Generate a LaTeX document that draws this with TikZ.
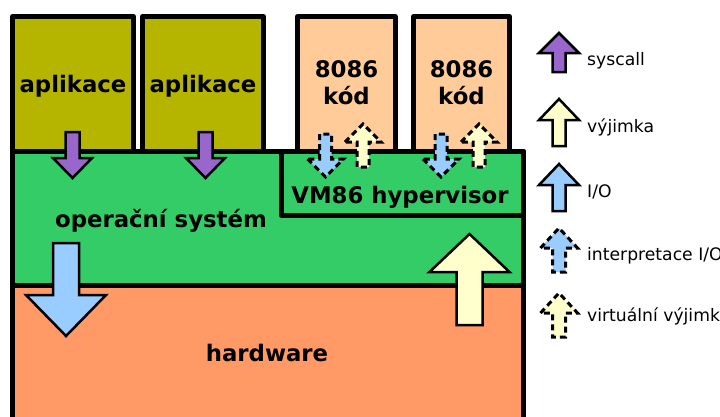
\documentclass[tikz,border=0pt]{standalone}
\usepackage{fontspec}
\setmainfont{DejaVu Sans}
\definecolor{appcol}{RGB}{181,181,0}
\definecolor{codecol}{RGB}{255,204,153}
\definecolor{oscol}{RGB}{51,204,102}
\definecolor{hwcol}{RGB}{255,153,102}
\definecolor{purplecol}{RGB}{153,102,204}
\definecolor{yellowcol}{RGB}{255,255,204}
\definecolor{bluecol}{RGB}{153,204,255}
\newcommand{\blockarr}[7]{\draw[#1] (#2-#7,#4) -- (#2,#3) -- (#2+#7,#4) -- (#2+#6,#4) -- (#2+#6,#5) -- (#2-#6,#5) -- (#2-#6,#4) -- cycle;}
\begin{document}
\begin{tikzpicture}[x=1pt,y=-1pt,
  box/.style={draw=black, line width=5pt, line join=round},
  lbl/.style={font=\fontsize{22.8}{27}\selectfont\bfseries, inner sep=0pt, anchor=base},
  leg/.style={font=\fontsize{17.2}{20}\selectfont, inner sep=0pt, anchor=base west},
  solidarr/.style={draw=black, line width=2.5pt, line join=miter},
  dasharr/.style={draw=black, line width=3pt, dash pattern=on 6pt off 4pt, line join=miter},
  purplearr/.style={solidarr, fill=purplecol},
  yellowarr/.style={solidarr, fill=yellowcol},
  bluearr/.style={solidarr, fill=bluecol},
  dyellowarr/.style={dasharr, fill=yellowcol},
  dbluearr/.style={dasharr, fill=bluecol}]
\useasboundingbox (0,0) rectangle (720,416);
\fill[white] (0,0) rectangle (720,416);
\clip (0,0) rectangle (720,416);
% boxes
\draw[box, fill=appcol] (12.5,16.5) rectangle (133.5,151.5);
\draw[box, fill=appcol] (142.5,16.5) rectangle (263.5,151.5);
\draw[box, fill=codecol] (297.5,16.5) rectangle (395,151.5);
\draw[box, fill=codecol] (413.5,16.5) rectangle (509.5,151.5);
\draw[box, fill=oscol] (12.5,151.5) rectangle (523.5,285.5);
\draw[box, fill=hwcol] (12.5,285.5) rectangle (523.5,440);
\draw[box, fill=oscol] (281.5,151.5) rectangle (523.5,215.5);
% texts
\node[lbl] (app1) at (73,92) {aplikace};
\node[lbl] (app2) at (203,92) {aplikace};
\node[lbl] (codeA1) at (346.5,77) {8086};
\node[lbl] (codeA2) at (346.5,104) {kód};
\node[lbl] (codeB1) at (461.5,77) {8086};
\node[lbl] (codeB2) at (461.5,104) {kód};
\node[lbl] (os) at (161,227) {operační systém};
\node[lbl] (vm) at (400,203) {VM86 hypervisor};
\node[lbl] (hw) at (267,361) {hardware};
% arrows
\blockarr{purplearr}{72.5}{178}{158}{132}{7}{19.5}
\blockarr{purplearr}{205.5}{178}{158}{132}{7}{19.5}
\blockarr{bluearr}{66}{336}{295}{243}{13}{40}
\blockarr{yellowarr}{469.5}{234}{272}{325}{13}{40}
\blockarr{dbluearr}{325.5}{177}{159}{134}{6}{18}
\blockarr{dbluearr}{441}{177}{159}{134}{6}{18}
\blockarr{dyellowarr}{363}{124}{142}{167}{6}{18}
\blockarr{dyellowarr}{479}{124}{142}{167}{6}{18}
% legend
\blockarr{purplearr}{559}{33}{53}{72}{6.5}{20}
\blockarr{yellowarr}{559}{99}{120}{146}{6.5}{20}
\blockarr{bluearr}{559}{164}{185}{211}{6.5}{20}
\blockarr{dbluearr}{559}{228}{248}{272}{6.5}{18.5}
\blockarr{dyellowarr}{559}{293}{313}{337}{6.5}{18.5}
\node[leg] (l1) at (587,65.5) {syscall};
\node[leg] (l2) at (587,132) {výjimka};
\node[leg] (l3) at (587,197) {I/O};
\node[leg] (l4) at (587,260) {interpretace I/O};
\node[leg] (l5) at (587,321) {virtuální výjimka};
\end{tikzpicture}
\end{document}
